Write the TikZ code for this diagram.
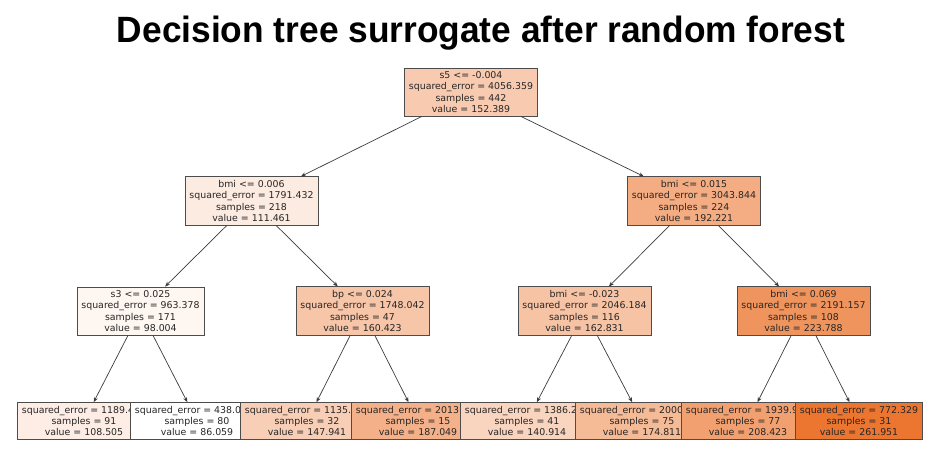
\documentclass[tikz,border=0pt]{standalone}
\usepackage{fontspec}
\setmainfont{DejaVu Sans}
\newfontfamily\titlefont{Liberation Sans}
\usetikzlibrary{arrows.meta}
\definecolor{treeorange}{RGB}{236,118,48}
\definecolor{edgegray}{RGB}{60,60,60}
\newcommand{\cutline}[1]{\rlap{#1}\phantom{squared\_error = 0000.000}}
\tikzset{
  treebox/.style={draw=black!70, line width=0.8pt, inner xsep=4.5pt, inner ysep=3.4pt,
    align=center, font=\fontsize{9.4}{11.4}\selectfont, text=black!85},
  conn/.style={draw=edgegray, line width=0.7pt, -{Stealth[length=5pt,width=4pt]}},
}
\begin{document}
\begin{tikzpicture}[x=1pt,y=-1pt]
\useasboundingbox (0,0) rectangle (940,458);
\fill[white] (0,0) rectangle (940,458);

\node[anchor=base] (title) at (481,42)
  {\resizebox{728pt}{26.5pt}{\titlefont\bfseries Decision tree surrogate after random forest}};

% root
\node[treebox, fill=treeorange!37.7] (root) at (471,92)
  {s5 <= -0.004\\squared\_error = 4056.359\\samples = 442\\value = 152.389};
% level 1
\node[treebox, fill=treeorange!14.4] (a) at (251.5,201)
  {bmi <= 0.006\\squared\_error = 1791.432\\samples = 218\\value = 111.461};
\node[treebox, fill=treeorange!60.4] (b) at (694,201)
  {bmi <= 0.015\\squared\_error = 3043.844\\samples = 224\\value = 192.221};
% level 2
\node[treebox, fill=treeorange!6.8] (aa) at (140.5,311)
  {s3 <= 0.025\\squared\_error = 963.378\\samples = 171\\value = 98.004};
\node[treebox, fill=treeorange!42.3] (ab) at (362.5,311)
  {bp <= 0.024\\squared\_error = 1748.042\\samples = 47\\value = 160.423};
\node[treebox, fill=treeorange!43.6] (ba) at (584.5,311)
  {bmi <= -0.023\\squared\_error = 2046.184\\samples = 116\\value = 162.831};
\node[treebox, fill=treeorange!78.3] (bb) at (803.5,311)
  {bmi <= 0.069\\squared\_error = 2191.157\\samples = 108\\value = 223.788};
% leaves (drawn left to right, each covering the previous one)
\node[treebox, fill=treeorange!12.8] (l1) at (84,421)
  {\cutline{squared\_error = 1189.4}\\samples = 91\\value = 108.505};
\node[treebox, fill=white] (l2) at (197,421)
  {\cutline{squared\_error = 438.0}\\samples = 80\\value = 86.059};
\node[treebox, fill=treeorange!35.2] (l3) at (307,421)
  {\cutline{squared\_error = 1135.}\\samples = 32\\value = 147.941};
\node[treebox, fill=treeorange!57.4] (l4) at (418,421)
  {\cutline{squared\_error = 2013.}\\samples = 15\\value = 187.049};
\node[treebox, fill=treeorange!31.2] (l5) at (527,421)
  {\cutline{squared\_error = 1386.2}\\samples = 41\\value = 140.914};
\node[treebox, fill=treeorange!50.5] (l6) at (642,421)
  {\cutline{squared\_error = 2000}\\samples = 75\\value = 174.811};
\node[treebox, fill=treeorange!69.6] (l7) at (748,421)
  {\cutline{squared\_error = 1939.9}\\samples = 77\\value = 208.423};
\node[treebox, fill=treeorange] (l8) at (859,421)
  {squared\_error = 772.329\\samples = 31\\value = 261.951};

% connectors
\draw[conn] (root) -- (a);
\draw[conn] (root) -- (b);
\draw[conn] (a) -- (aa);
\draw[conn] (a) -- (ab);
\draw[conn] (b) -- (ba);
\draw[conn] (b) -- (bb);
\draw[conn] (aa) -- (l1);
\draw[conn] (aa) -- (l2);
\draw[conn] (ab) -- (l3);
\draw[conn] (ab) -- (l4);
\draw[conn] (ba) -- (l5);
\draw[conn] (ba) -- (l6);
\draw[conn] (bb) -- (l7);
\draw[conn] (bb) -- (l8);
\end{tikzpicture}
\end{document}
